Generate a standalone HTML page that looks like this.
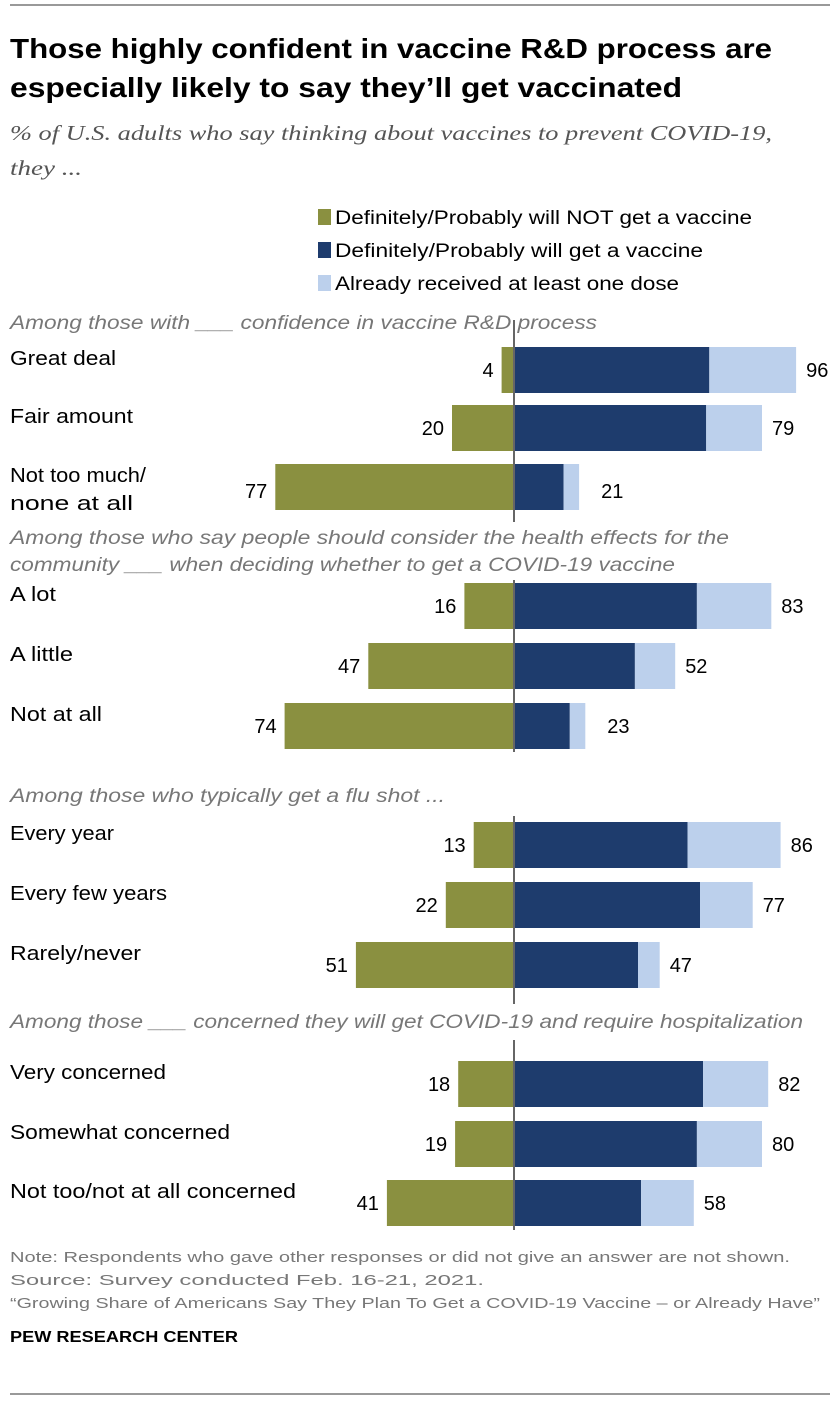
<!DOCTYPE html>
<html><head><meta charset="utf-8"><style>
body{margin:0;background:#fff;width:840px;height:1402px;overflow:hidden;font-family:"Liberation Sans",sans-serif}
svg text{font-family:"Liberation Sans",sans-serif}
</style></head><body>
<svg id="c" width="840" height="1402">
<line x1="10" y1="5" x2="830" y2="5" stroke="#333" stroke-width="1"/>
<text x="10" y="58" font-size="28" font-weight="bold" fill="#000" textLength="762" lengthAdjust="spacingAndGlyphs">Those highly confident in vaccine R&amp;D process are</text>
<text x="10" y="97" font-size="28" font-weight="bold" fill="#000" textLength="672" lengthAdjust="spacingAndGlyphs">especially likely to say they’ll get vaccinated</text>
<text x="10" y="140" font-size="21" font-style="italic" fill="#555" textLength="762" lengthAdjust="spacingAndGlyphs" style="font-family:'Liberation Serif',serif">% of U.S. adults who say thinking about vaccines to prevent COVID-19,</text>
<text x="10" y="175" font-size="21" font-style="italic" fill="#555" textLength="72" lengthAdjust="spacingAndGlyphs" style="font-family:'Liberation Serif',serif">they ...</text>
<g>
<rect x="318" y="209" width="13" height="16" fill="#8a9040"/>
<text x="335" y="224" font-size="19" fill="#000" textLength="417" lengthAdjust="spacingAndGlyphs">Definitely/Probably will NOT get a vaccine</text>
<rect x="318" y="242" width="13" height="16" fill="#1e3c6d"/>
<text x="335" y="257" font-size="19" fill="#000" textLength="368" lengthAdjust="spacingAndGlyphs">Definitely/Probably will get a vaccine</text>
<rect x="318" y="275" width="13" height="16" fill="#bcd0ec"/>
<text x="335" y="290" font-size="19" fill="#000" textLength="344" lengthAdjust="spacingAndGlyphs">Already received at least one dose</text>
</g>
<g id="bars"></g>
<text x="10" y="1262" font-size="15" fill="#777" textLength="780" lengthAdjust="spacingAndGlyphs">Note: Respondents who gave other responses or did not give an answer are not shown.</text>
<text x="10" y="1285" font-size="15" fill="#777" textLength="474" lengthAdjust="spacingAndGlyphs">Source: Survey conducted Feb. 16-21, 2021.</text>
<text x="10" y="1308" font-size="15" fill="#777" textLength="810" lengthAdjust="spacingAndGlyphs">“Growing Share of Americans Say They Plan To Get a COVID-19 Vaccine – or Already Have”</text>
<text x="10" y="1342" font-size="16" font-weight="bold" fill="#000" textLength="228" lengthAdjust="spacingAndGlyphs">PEW RESEARCH CENTER</text>
<line x1="10" y1="1394" x2="830" y2="1394" stroke="#333" stroke-width="1"/>
</svg>
<script>
const groupTitles=[["Among those with ___ confidence in vaccine R&D process"],["Among those who say people should consider the health effects for the","community ___ when deciding whether to get a COVID-19 vaccine"],["Among those who typically get a flu shot ..."],["Among those ___ concerned they will get COVID-19 and require hospitalization"]];
const categories=[["Great deal"],["Fair amount"],["Not too much/","none at all"],["A lot"],["A little"],["Not at all"],["Every year"],["Every few years"],["Rarely/never"],["Very concerned"],["Somewhat concerned"],["Not too/not at all concerned"]];
const notValues=[4,20,77,16,47,74,13,22,51,18,19,41];
const willValues=[63,62,16,59,39,18,56,60,40,61,59,41];
const receivedValues=[28,18,5,24,13,5,30,17,7,21,21,17];
const totalLabels=[96,79,21,83,52,23,86,77,47,82,80,58];
const NS="http://www.w3.org/2000/svg";
const g=document.getElementById('bars');
const x0=514,k=3.1;
const xs=v=>x0+v*k;
const rowTop=[347,405,464,583,643,703,822,882,942,1061,1121,1180];
const groupTitleY=[[329],[544,571],[802],[1028]];
const groupTitleW=[[587],[719,665],[435],[793]];
const labelW=[[106],[123],[136,123],[46],[63],[92],[104],[157],[131],[156],[220],[286]];
const zeroSpan=[[320,522],[580,752],[816,1004],[1040,1230]];
function el(t,a,txt){const e=document.createElementNS(NS,t);for(const n in a)e.setAttribute(n,a[n]);if(txt!==undefined)e.textContent=txt;g.appendChild(e);return e;}
groupTitles.forEach((lines,gi)=>{lines.forEach((l,li)=>{
 const t=el('text',{x:10,y:groupTitleY[gi][li],'font-size':19,'font-style':'italic',fill:'#777',textLength:groupTitleW[gi][li],lengthAdjust:'spacingAndGlyphs'},l);
 
 
});});
const bh=46;
categories.forEach((c,i)=>{
 const y=rowTop[i];
 const n=notValues[i],w=willValues[i],r=receivedValues[i];
 const a=el('rect',{x:xs(-n),y:y,width:xs(0)-xs(-n),height:bh,fill:'#8a9040'});
 
 
 const b=el('rect',{x:xs(0),y:y,width:xs(w)-xs(0),height:bh,fill:'#1e3c6d'});
 
 
 const d=el('rect',{x:xs(w),y:y,width:xs(w+r)-xs(w),height:bh,fill:'#bcd0ec'});
 
 
 const ty=y+bh/2+7+(c.length>1?4:0);
 const ln=el('text',{x:xs(-n)-8,y:ty,'font-size':20,'text-anchor':'end',fill:'#000'},n);
 
 
 const rx=Math.max(xs(w+r),xs(w)+12)+10;
 const rn=el('text',{x:(w+r<30?rx+12:rx),y:ty,'font-size':20,fill:'#000'},totalLabels[i]);
 
 
 c.forEach((l,li)=>{
  const ct=el('text',{x:10,y:(c.length>1?y+18+li*28:y+18),'font-size':20,fill:'#000',textLength:labelW[i][li],lengthAdjust:'spacingAndGlyphs'},l);
  
  
 });
});
zeroSpan.forEach((s,gi)=>{
 const z=el('line',{x1:xs(0),x2:xs(0),y1:s[0],y2:s[1],stroke:'#666','stroke-width':2});
 
 
});
</script>
</body></html>
